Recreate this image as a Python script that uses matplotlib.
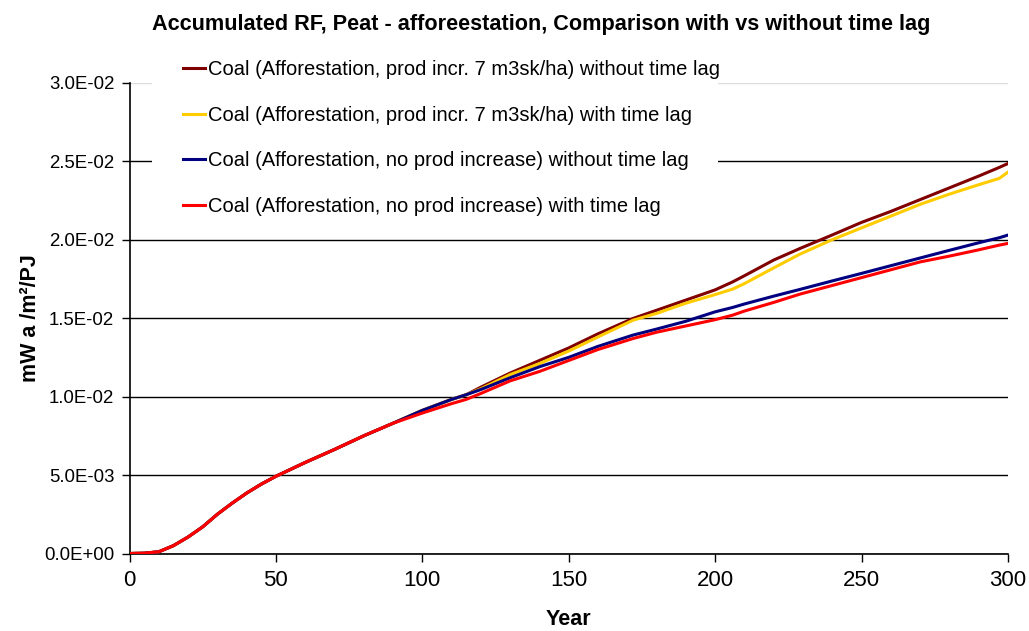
import matplotlib
matplotlib.use("Agg")
import matplotlib.pyplot as plt
from matplotlib.patches import Rectangle

plt.rcParams["font.family"] = ["Liberation Sans", "DejaVu Sans"]

# Years for the common early part (all four series identical up to ~90)
years_common = [0, 5, 10, 15, 20, 25, 30, 35, 40, 45, 50, 60, 70, 80, 90]
rf_common = [0.0, 0.00002, 0.00011, 0.00050, 0.00105, 0.00170, 0.00250,
             0.00320, 0.00385, 0.00442, 0.00492, 0.00580, 0.00663,
             0.00750, 0.00830]

# Later years, per series
years_late = [100, 110, 115, 120, 130, 140, 150, 160, 172, 180, 190, 200,
              206, 210, 220, 229, 240, 250, 260, 270, 280, 290, 297, 300]

prod_no_lag = [0.00912, 0.00982, 0.01012, 0.01060, 0.01150, 0.01230,
               0.01310, 0.01400, 0.01498, 0.01550, 0.01615, 0.01680,
               0.01731, 0.01770, 0.01870, 0.01944, 0.02030, 0.02110,
               0.02180, 0.02255, 0.02330, 0.02405, 0.02460, 0.02485]
prod_lag = [0.00912, 0.00982, 0.01012, 0.01050, 0.01140, 0.01210,
            0.01290, 0.01380, 0.01487, 0.01530, 0.01595, 0.01650,
            0.01685, 0.01720, 0.01820, 0.01908, 0.02000, 0.02075,
            0.02150, 0.02225, 0.02290, 0.02350, 0.02390, 0.02430]
noprod_no_lag = [0.00912, 0.00982, 0.01012, 0.01045, 0.01120, 0.01190,
                 0.01250, 0.01320, 0.01392, 0.01430, 0.01480, 0.01540,
                 0.01568, 0.01590, 0.01640, 0.01683, 0.01737, 0.01785,
                 0.01834, 0.01883, 0.01932, 0.01980, 0.02012, 0.02029]
noprod_lag = [0.00895, 0.00955, 0.00982, 0.01020, 0.01100, 0.01160,
              0.01230, 0.01300, 0.01370, 0.01410, 0.01450, 0.01490,
              0.01519, 0.01545, 0.01600, 0.01653, 0.01708, 0.01758,
              0.01808, 0.01858, 0.01895, 0.01935, 0.01965, 0.01976]

labels = [
    "Coal (Afforestation, prod incr. 7 m3sk/ha) without time lag",
    "Coal (Afforestation, prod incr. 7 m3sk/ha) with time lag",
    "Coal (Afforestation, no prod increase) without time lag",
    "Coal (Afforestation, no prod increase) with time lag",
]
colors = ["#800000", "#FFCC00", "#000080", "#FF0000"]
series = [prod_no_lag, prod_lag, noprod_no_lag, noprod_lag]

y_ticks = [0.0, 0.005, 0.010, 0.015, 0.020, 0.025, 0.030]
y_tick_labels = ["0.0E+00", "5.0E-03", "1.0E-02", "1.5E-02", "2.0E-02",
                 "2.5E-02", "3.0E-02"]
x_ticks = [0, 50, 100, 150, 200, 250, 300]

W, H = 1029, 631
fig = plt.figure(figsize=(W / 100, H / 100), dpi=100)
ax = fig.add_axes([129.5 / W, 1 - 553.5 / H, (1008 - 129.5) / W,
                   (553.5 - 82.7) / H])

handles = []
for vals, col, lab in zip(series, colors, labels):
    (h,) = ax.plot(years_common + years_late, rf_common + vals, color=col,
                   lw=2.2, label=lab, zorder=3, solid_joinstyle="round")
    handles.append(h)

ax.set_xlim(0, 300)
ax.set_ylim(0, 0.03)
ax.set_xticks(x_ticks)
ax.set_xticklabels([str(v) for v in x_ticks], fontsize=16)
ax.set_yticks(y_ticks)
ax.set_yticklabels(y_tick_labels, fontsize=13.4)
ax.tick_params(axis="x", direction="out", length=6, width=1, pad=6)
ax.tick_params(axis="y", direction="out", length=6, width=1, pad=5)

ax.yaxis.grid(True, color="black", lw=1, zorder=0.5)
ax.get_ygridlines()[-1].set_color("#dddddd")
ax.set_axisbelow(True)

for side in ("top", "right"):
    ax.spines[side].set_visible(False)
for side in ("left", "bottom"):
    ax.spines[side].set_linewidth(1.2)
    ax.spines[side].set_color("black")

ax.set_xlabel("Year", fontsize=15.5, fontweight="bold", labelpad=13)
ax.set_ylabel("mW a /m²/PJ", fontsize=15.5, fontweight="bold", labelpad=2)
fig.suptitle("Accumulated RF, Peat - afforeestation, Comparison with vs "
             "without time lag", fontsize=15.6, fontweight="bold",
             x=541 / W, y=1 - 14 / H, va="top")

# white backing behind the legend entries, above the gridlines
ax.add_patch(Rectangle((152 / W, 1 - 228 / H), (718 - 152) / W,
                       (228 - 52) / H, transform=fig.transFigure,
                       facecolor="white", edgecolor="none", zorder=1,
                       clip_on=False))

leg = fig.legend(handles=handles, loc="upper left",
                 bbox_to_anchor=(179 / W, 1 - 56 / H),
                 frameon=False, fontsize=14.5, handlelength=1.1,
                 handletextpad=0.15, labelspacing=1.32, borderpad=0.2,
                 borderaxespad=0)

fig.savefig("out.png", dpi=100, facecolor="white")
